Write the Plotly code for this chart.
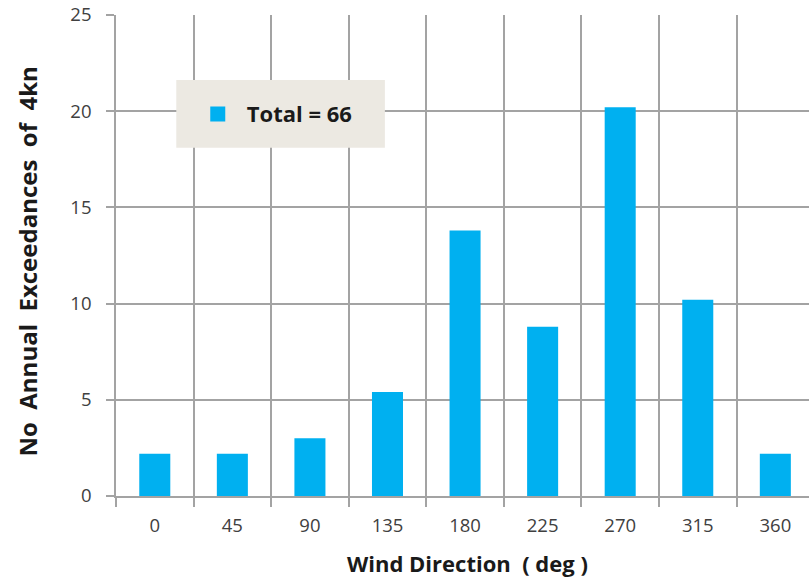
import plotly.graph_objects as go

# Annual exceedances of 4 kn by wind direction
directions = ["0", "45", "90", "135", "180", "225", "270", "315", "360"]
exceedances = [2.2, 2.2, 3.0, 5.4, 13.8, 8.8, 20.2, 10.2, 2.2]
y_ticks = [0, 5, 10, 15, 20, 25]
series_name = "Total = 66"

BAR_BLUE = "#00B0F0"
GRID = "#A3A3A3"
FONT = "Open Sans"
NB = "\u00a0"

fig = go.Figure()
fig.add_trace(go.Bar(
    x=directions,
    y=exceedances,
    name=series_name,
    width=0.4,
    marker=dict(color=BAR_BLUE, line=dict(width=0)),
    showlegend=False,
))
# legend entry with a larger square swatch
fig.add_trace(go.Scatter(
    x=[None], y=[None], mode="markers", name=series_name,
    marker=dict(symbol="square", size=15, color=BAR_BLUE),
    showlegend=True,
))

# legend backdrop panel (covers the gridlines behind it)
fig.add_shape(
    type="rect", xref="paper", yref="paper",
    x0=0.087, x1=0.388, y0=0.724, y1=0.865,
    fillcolor="#ECE9E2", line=dict(width=0), layer="above",
)

fig.update_layout(
    width=809, height=583,
    margin=dict(l=116, r=0, t=15, b=87),
    paper_bgcolor="white", plot_bgcolor="white",
    font=dict(family=FONT, size=18.5, color="#404040"),
    showlegend=True,
    legend=dict(
        x=0.105, y=0.794, xanchor="left", yanchor="middle",
        bgcolor="rgba(0,0,0,0)", borderwidth=0, itemwidth=48,
        font=dict(family=FONT, size=22, color="#1A1A1A", weight="bold"),
    ),
    xaxis=dict(
        type="category",
        range=[-0.5, 8.434],
        tickson="boundaries",
        showgrid=True, gridcolor=GRID, gridwidth=1.6,
        showline=True, linecolor=GRID, linewidth=1.6,
        ticks="outside", ticklen=9, tickwidth=1.6, tickcolor=GRID,
        ticklabelstandoff=12,
        tickfont=dict(family=FONT, size=18.5, color="#404040"),
        zeroline=False, fixedrange=True,
    ),
    yaxis=dict(
        range=[0, 25],
        tickvals=y_ticks,
        showgrid=True, gridcolor=GRID, gridwidth=1.6,
        showline=True, linecolor=GRID, linewidth=1.6,
        ticks="outside", ticklen=8, tickwidth=1.6, tickcolor=GRID,
        ticklabelstandoff=11,
        tickfont=dict(family=FONT, size=18.5, color="#404040"),
        zeroline=False, fixedrange=True,
    ),
    annotations=[
        dict(
            text="<b>" + (" " + NB).join(["No", "Annual", "Exceedances", "of", "4kn"]) + "</b>",
            xref="paper", yref="paper", x=-0.128, y=0.488,
            xanchor="center", yanchor="middle", textangle=-90,
            showarrow=False,
            font=dict(family=FONT, size=24, color="#1A1A1A"),
        ),
        dict(
            text="<b>Wind Direction" + NB * 2 + "(" + NB + "deg" + NB + ")</b>",
            xref="paper", yref="paper", x=0.5067, y=-0.14,
            xanchor="center", yanchor="middle",
            showarrow=False,
            font=dict(family=FONT, size=22, color="#1A1A1A"),
        ),
    ],
)

fig.write_html("out.html")
